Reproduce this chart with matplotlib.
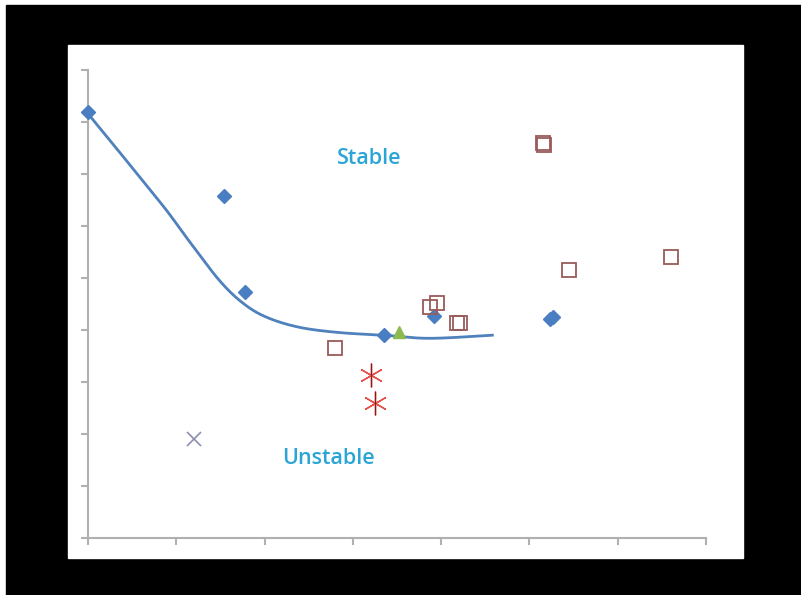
import numpy as np
import matplotlib
matplotlib.use("Agg")
import matplotlib.pyplot as plt
import matplotlib.patches as mpatches

W, H = 801, 595

# stability boundary
curve_x = [0.0, 0.30, 0.59, 0.89, 1.15, 1.49, 1.76, 2.03, 2.40, 2.85, 3.35, 3.87, 4.58]
curve_y = [8.16, 7.54, 6.93, 6.30, 5.70, 4.95, 4.51, 4.24, 4.05, 3.95, 3.90, 3.84, 3.90]

# series points
diamond_x = [0.0, 1.54, 1.78, 3.35, 3.92, 5.23, 5.27]
diamond_y = [8.19, 6.58, 4.73, 3.90, 4.27, 4.21, 4.25]

square_x = [2.80, 3.87, 3.95, 4.18, 4.21, 5.15, 5.17, 5.45, 6.60]
square_y = [3.65, 4.44, 4.52, 4.13, 4.13, 7.60, 7.56, 5.15, 5.40]

star_x = [3.20, 3.25]
star_y = [3.13, 2.60]

cross_x = [1.20]
cross_y = [1.90]

tri_x = [3.52]
tri_y = [3.96]


def smooth(xs, ys, n=20):
    # Catmull-Rom through the read points, like Excel's smoothed line
    p = np.column_stack([xs, ys])
    p = np.vstack([p[0], p, p[-1]])
    t = np.linspace(0, 1, n, endpoint=False)[:, None]
    out = []
    for i in range(1, len(p) - 2):
        p0, p1, p2, p3 = p[i - 1], p[i], p[i + 1], p[i + 2]
        out.append(0.5 * (2 * p1 + (-p0 + p2) * t + (2 * p0 - 5 * p1 + 4 * p2 - p3) * t ** 2
                          + (-p0 + 3 * p1 - 3 * p2 + p3) * t ** 3))
    out.append(p[-2][None])
    out = np.vstack(out)
    return out[:, 0], out[:, 1]


fig = plt.figure(figsize=(W / 100, H / 100), dpi=100, facecolor="white")

# black frame + white chart area, on a background axes
bg = fig.add_axes([0, 0, 1, 1], zorder=-1)
bg.set_xlim(0, W)
bg.set_ylim(H, 0)
bg.axis("off")
bg.add_patch(mpatches.Rectangle((6, 5), W - 6, H - 5, color="black"))
bg.add_patch(mpatches.Rectangle((68, 45), 743 - 68, 558 - 45, color="white"))

ax = fig.add_axes([88 / W, 1 - 538 / H, (706 - 88) / W, (538 - 70) / H])
ax.set_facecolor("none")

sx, sy = smooth(curve_x, curve_y)
ax.plot(sx, sy, color="#4f81bd", lw=2, zorder=2)
ax.plot(diamond_x, diamond_y, "D", color="#4a7ec2", ms=7, zorder=3, clip_on=False)
ax.plot(square_x, square_y, "s", mfc="none", mec="#9a5a5a", ms=10, mew=1.3, zorder=3)
ax.plot(star_x, star_y, marker=(6, 2, 0), ls="none", color="#e8504a", ms=17, mew=1.0, zorder=3)
ax.plot(star_x, star_y, marker="|", ls="none", color="#7a2020", ms=17, mew=0.8, zorder=3)
ax.plot(cross_x, cross_y, "x", color="#8c8fae", ms=10, mew=1.2, zorder=3)
ax.plot(tri_x, tri_y, "^", color="#8dba4f", ms=9, zorder=3)

ax.text(3.18, 7.29, "Stable", color="#2aa5d5", fontsize=15.5, fontweight="semibold",
        family="Open Sans", ha="center", va="center")
ax.text(2.72, 1.52, "Unstable", color="#2aa5d5", fontsize=15.5, fontweight="semibold",
        family="Open Sans", ha="center", va="center")

ax.set_xlim(0, 7)
ax.set_ylim(0, 9)
ax.set_xticks(range(0, 8))
ax.set_yticks(range(0, 10))
ax.set_xticklabels([])
ax.set_yticklabels([])
for s in ["top", "right"]:
    ax.spines[s].set_visible(False)
for s in ["left", "bottom"]:
    ax.spines[s].set_color("#b0b0b0")
    ax.spines[s].set_linewidth(1.5)
ax.tick_params(color="#b0b0b0", width=1.5, length=5, direction="out")

fig.savefig("out.png", dpi=100, facecolor="white")
